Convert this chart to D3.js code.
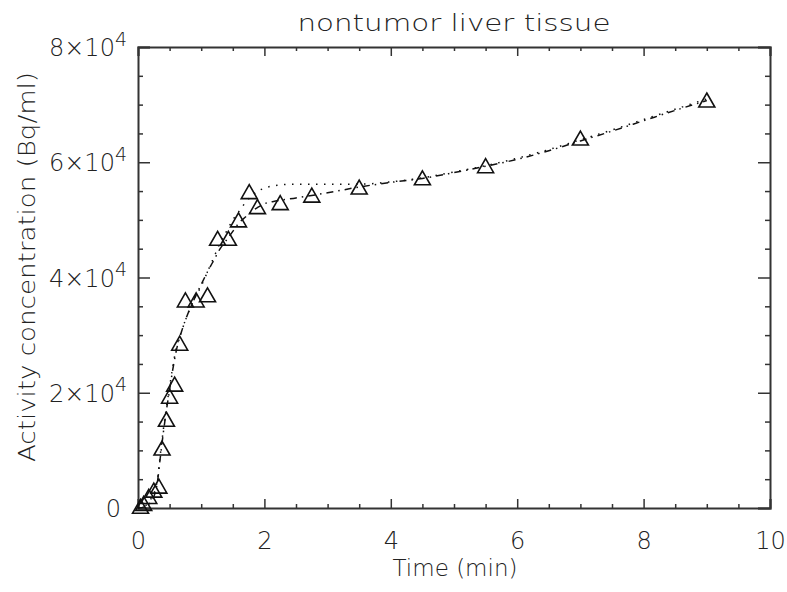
<!DOCTYPE html>
<html>
<head>
<meta charset="utf-8">
<script src="https://cdn.jsdelivr.net/npm/d3@7"></script>
<style>
  body { margin: 0; background: #fff; }
  svg text { font-family: "DejaVu Sans", sans-serif; font-weight: 200; fill: #222; }
</style>
</head>
<body>
<svg id="chart" width="787" height="592"></svg>
<script>
// measured points (min, Bq/ml)
var times = [0.04, 0.09, 0.17, 0.25, 0.33, 0.38, 0.45, 0.50, 0.58, 0.66, 0.75, 0.92, 1.10,
             1.26, 1.43, 1.59, 1.76, 1.89, 2.25, 2.75, 3.5, 4.5, 5.5, 7.0, 9.0];
var activity = [300, 800, 2000, 3100, 3800, 10400, 15400, 19400, 21500, 28600, 36100, 36100, 37000,
                46800, 46800, 50000, 54900, 52300, 53000, 54300, 55700, 57300, 59400, 64200, 70800];

// fitted curves (units of 1e4 Bq/ml)
var fitTimes = [0, 0.1, 0.2, 0.3, 0.35, 0.4, 0.45, 0.5, 0.55, 0.6, 0.7, 0.8, 0.9, 1.0, 1.1, 1.2, 1.3,
                1.4, 1.5, 1.6, 1.7, 1.8, 1.9, 2.0, 2.2, 2.5, 3.0, 3.5, 4.0, 4.5, 5.0, 5.5, 6.0, 6.5,
                7.0, 7.5, 8.0, 8.5, 9.0];
var fitDotted = [0, 0.03, 0.15, 0.45, 0.9, 1.35, 1.75, 2.1, 2.45, 2.75, 3.1, 3.4, 3.65, 3.85, 4.1, 4.35,
                 4.6, 4.8, 5.0, 5.15, 5.3, 5.42, 5.5, 5.55, 5.6, 5.62, 5.62, 5.62, 5.66, 5.73, 5.83,
                 5.94, 6.07, 6.22, 6.39, 6.56, 6.74, 6.92, 7.1];
var fitDashDot = [0, 0.02, 0.1, 0.4, 0.85, 1.3, 1.7, 2.05, 2.4, 2.7, 3.1, 3.4, 3.65, 3.88, 4.1, 4.3,
                  4.5, 4.65, 4.8, 4.95, 5.05, 5.15, 5.22, 5.28, 5.33, 5.38, 5.47, 5.57, 5.65, 5.72,
                  5.82, 5.93, 6.05, 6.2, 6.37, 6.54, 6.72, 6.9, 7.07];

var xTicks = [0, 2, 4, 6, 8, 10];
var yTicks = [0, 2, 4, 6, 8];   // x 1e4

(function() {
  var svg = d3.select('#chart');
  var plotLeft = 138, plotRight = 770, plotTop = 47, plotBottom = 508;

  var x = d3.scaleLinear().domain([0, 10]).range([plotLeft, plotRight]);
  var y = d3.scaleLinear().domain([0, 80000]).range([plotBottom, plotTop]);

  var minorX = d3.range(0, 10.01, 0.5).filter(function(d) { return d % 2 !== 0; });
  var minorY = d3.range(0, 80001, 5000).filter(function(d) { return d % 20000 !== 0; });
  var majorY = yTicks.map(function(d) { return d * 1e4; });

  function styleAxis(g) {
    g.select('.domain').attr('stroke', '#333').attr('stroke-width', 2);
    g.selectAll('.tick line').attr('stroke', '#333').attr('stroke-width', 1.5);
  }

  // bottom
  var gb = svg.append('g').attr('transform', 'translate(0,' + plotBottom + ')')
    .call(d3.axisBottom(x).tickValues(xTicks).tickSize(-9).tickPadding(24).tickFormat(d3.format('d')));
  gb.call(styleAxis);
  gb.selectAll('.tick text').attr('font-size', 24).attr('fill', '#222')
    .style('font-family', '"DejaVu Sans", sans-serif').style('font-weight', 200);
  svg.append('g').attr('transform', 'translate(0,' + plotBottom + ')')
    .call(d3.axisBottom(x).tickValues(minorX).tickSize(-4).tickFormat(''))
    .call(styleAxis).select('.domain').remove();

  // top
  svg.append('g').attr('transform', 'translate(0,' + plotTop + ')')
    .call(d3.axisTop(x).tickValues(xTicks).tickSize(-9).tickFormat('')).call(styleAxis);
  svg.append('g').attr('transform', 'translate(0,' + plotTop + ')')
    .call(d3.axisTop(x).tickValues(minorX).tickSize(-4).tickFormat(''))
    .call(styleAxis).select('.domain').remove();

  // left
  var gl = svg.append('g').attr('transform', 'translate(' + plotLeft + ',0)')
    .call(d3.axisLeft(y).tickValues(majorY).tickSize(-12).tickFormat(''));
  gl.call(styleAxis);
  gl.selectAll('.tick').each(function(d) {
    var t = d3.select(this).append('text')
      .attr('text-anchor', 'end').attr('font-size', 24).attr('dy', '0.36em');
    if (d === 0) {
      t.attr('x', -17).text('0');
    } else {
      t.attr('x', -11);
      t.append('tspan').text((d / 1e4) + '\u00d710');
      t.append('tspan').attr('font-size', 19).attr('dy', '-0.55em').text('4');
    }
  });
  svg.append('g').attr('transform', 'translate(' + plotLeft + ',0)')
    .call(d3.axisLeft(y).tickValues(minorY).tickSize(-5).tickFormat(''))
    .call(styleAxis).select('.domain').remove();

  // right
  svg.append('g').attr('transform', 'translate(' + plotRight + ',0)')
    .call(d3.axisRight(y).tickValues(majorY).tickSize(-12).tickFormat(''))
    .call(styleAxis);
  svg.append('g').attr('transform', 'translate(' + plotRight + ',0)')
    .call(d3.axisRight(y).tickValues(minorY).tickSize(-5).tickFormat(''))
    .call(styleAxis).select('.domain').remove();

  // fitted curves
  var line = d3.line()
    .x(function(d) { return x(d[0]); })
    .y(function(d) { return y(d[1] * 1e4); })
    .curve(d3.curveMonotoneX);

  svg.append('path')
    .datum(d3.zip(fitTimes, fitDotted))
    .attr('d', line)
    .attr('fill', 'none').attr('stroke', '#111').attr('stroke-width', 1.5)
    .attr('stroke-dasharray', '1.5,6.5');

  svg.append('path')
    .datum(d3.zip(fitTimes, fitDashDot))
    .attr('d', line)
    .attr('fill', 'none').attr('stroke', '#111').attr('stroke-width', 1.5)
    .attr('stroke-dasharray', '7,5,1.5,5');

  // triangles
  var tri = 'M0,-7L8,7L-8,7Z';
  svg.append('g').selectAll('path')
    .data(d3.zip(times, activity))
    .join('path')
    .attr('transform', function(d) { return 'translate(' + x(d[0]) + ',' + y(d[1]) + ')'; })
    .attr('d', tri)
    .attr('fill', 'none').attr('stroke', '#111').attr('stroke-width', 1.6);

  // titles
  svg.append('text').attr('x', 454).attr('y', 31).attr('text-anchor', 'middle')
    .attr('font-size', 23).attr('textLength', 313).attr('lengthAdjust', 'spacingAndGlyphs')
    .text('nontumor liver tissue');

  svg.append('text').attr('x', 455).attr('y', 576).attr('text-anchor', 'middle')
    .attr('font-size', 23).attr('textLength', 125).attr('lengthAdjust', 'spacingAndGlyphs')
    .text('Time (min)');

  svg.append('text').attr('transform', 'translate(35,267) rotate(-90)').attr('text-anchor', 'middle')
    .attr('font-size', 23).attr('textLength', 390).attr('lengthAdjust', 'spacingAndGlyphs')
    .text('Activity concentration (Bq/ml)');
})();
</script>
</body>
</html>
